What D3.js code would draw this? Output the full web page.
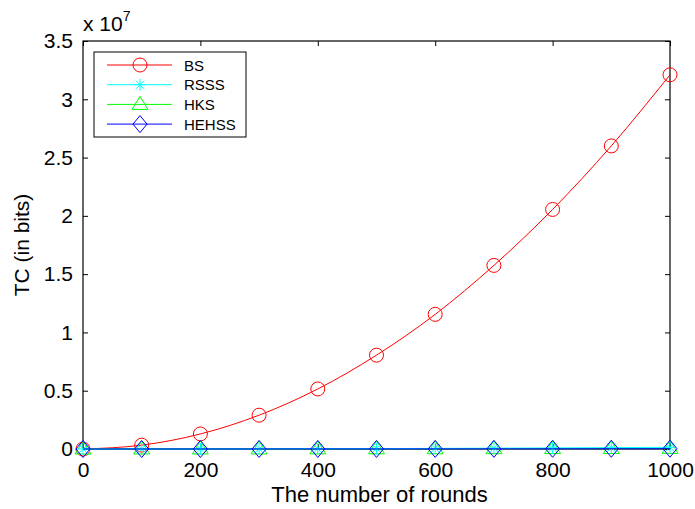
<!DOCTYPE html>
<html><head><meta charset="utf-8">
<script src="https://cdn.jsdelivr.net/npm/d3@7"></script>
<style>body{margin:0;background:#fff}svg{display:block;font-family:"Liberation Sans",Arial,sans-serif}</style>
</head><body>
<svg id="c" width="695" height="509"></svg>
<script>
const rounds = [0,100,200,300,400,500,600,700,800,900,1000];
const bs    = [0,0.033e7,0.129e7,0.29e7,0.515e7,0.805e7,1.155e7,1.575e7,2.055e7,2.6e7,3.21e7];
const rsss  = [0,2e3,6e3,1.3e4,2.3e4,3.6e4,5.2e4,7e4,9.2e4,1.17e5,1.45e5];
const hks   = [0,1e3,3e3,6e3,1e4,1.5e4,2.1e4,2.8e4,3.6e4,4.5e4,5.5e4];
const hehss = [0,500,1500,3e3,5e3,7.5e3,1e4,1.4e4,1.8e4,2.2e4,2.7e4];
const xTicks = [0,200,400,600,800,1000];
const yTicks = [0,0.5,1,1.5,2,2.5,3,3.5];
const seriesNames = ["BS","RSSS","HKS","HEHSS"];
const seriesColors = ["#ff0000","#00ffff","#00ff00","#0000ff"];
const seriesData = [bs,rsss,hks,hehss];

const svg = d3.select("#c");
const L=83,R=670,T=41,B=449;
const x = d3.scaleLinear().domain([0,1000]).range([L,R]);
const y = d3.scaleLinear().domain([0,3.5e7]).range([B,T]);

const gx = svg.append("g").attr("transform",`translate(0,${B})`)
  .call(d3.axisBottom(x).tickValues(xTicks).tickSize(-5).tickPadding(13).tickFormat(d=>d));
const gxt = svg.append("g").attr("transform",`translate(0,${T})`)
  .call(d3.axisTop(x).tickValues(xTicks).tickSize(-5).tickFormat(""));
const gy = svg.append("g").attr("transform",`translate(${L},0)`)
  .call(d3.axisLeft(y).tickValues(yTicks.map(v=>v*1e7)).tickSize(-5).tickPadding(10).tickFormat(d=>String(+(d/1e7).toFixed(1))));
const gyr = svg.append("g").attr("transform",`translate(${R},0)`)
  .call(d3.axisRight(y).tickValues(yTicks.map(v=>v*1e7)).tickSize(-5).tickFormat(""));
[gx,gxt,gy,gyr].forEach(g=>{
  g.select(".domain").remove();
  g.selectAll("line").attr("stroke","#000").attr("stroke-width",1);
  g.selectAll("text").attr("fill","#000").attr("font-size",21).attr("font-family","Liberation Sans, Arial, sans-serif");
});
gx.selectAll("text").attr("dy","0.71em");
svg.append("rect").attr("x",L).attr("y",T).attr("width",R-L).attr("height",B-T)
  .attr("fill","none").attr("stroke","#000").attr("stroke-width",1.2);

// labels
svg.append("text").attr("x",(L+R)/2+3).attr("y",502).attr("text-anchor","middle")
  .attr("font-size",22).text("The number of rounds");
svg.append("text").attr("transform",`translate(29,${(T+B)/2}) rotate(-90)`).attr("text-anchor","middle")
  .attr("font-size",21).text("TC (in bits)");
const ex = svg.append("text").attr("x",83).attr("y",31).attr("font-size",21);
ex.append("tspan").text("x 10");
ex.append("tspan").attr("dy",-10).attr("font-size",14).text("7");

// markers
function marker(g,i,cx,cy,c){
  if(i===0) g.append("circle").attr("cx",cx).attr("cy",cy).attr("r",7).attr("fill","none").attr("stroke",c);
  else if(i===1){
    const s=6;
    [[-s,0,s,0],[0,-s,0,s],[-s*0.7,-s*0.7,s*0.7,s*0.7],[-s*0.7,s*0.7,s*0.7,-s*0.7]].forEach(a=>
      g.append("line").attr("x1",cx+a[0]).attr("y1",cy+a[1]).attr("x2",cx+a[2]).attr("y2",cy+a[3]).attr("stroke",c));
  } else if(i===2){
    g.append("path").attr("d",`M${cx},${cy-8}L${cx+8},${cy+5}L${cx-8},${cy+5}Z`).attr("fill","none").attr("stroke",c);
  } else {
    g.append("path").attr("d",`M${cx},${cy-8.5}L${cx+7},${cy}L${cx},${cy+8.5}L${cx-7},${cy}Z`).attr("fill","none").attr("stroke",c);
  }
}
const line = d3.line().x((d,i)=>x(rounds[i])).y(d=>y(d)).curve(d3.curveMonotoneX);
const order=[0,2,1,3];
order.forEach(i=>{
  const g=svg.append("g");
  g.append("path").datum(seriesData[i]).attr("d",line).attr("fill","none").attr("stroke",seriesColors[i]).attr("stroke-width",1);
  seriesData[i].forEach((v,j)=>marker(g,i,x(rounds[j]),y(v),seriesColors[i]));
});

// legend
const lg = svg.append("g");
lg.append("rect").attr("x",94).attr("y",52).attr("width",152).attr("height",85).attr("fill","#fff").attr("stroke","#000");
seriesNames.forEach((n,i)=>{
  const ly = 65+i*19.7;
  lg.append("line").attr("x1",107).attr("x2",172).attr("y1",ly).attr("y2",ly).attr("stroke",seriesColors[i]);
  marker(lg,i,140,ly,seriesColors[i]);
  lg.append("text").attr("x",184).attr("y",ly+5.5).attr("font-size",15).text(n);
});
</script>
</body></html>
